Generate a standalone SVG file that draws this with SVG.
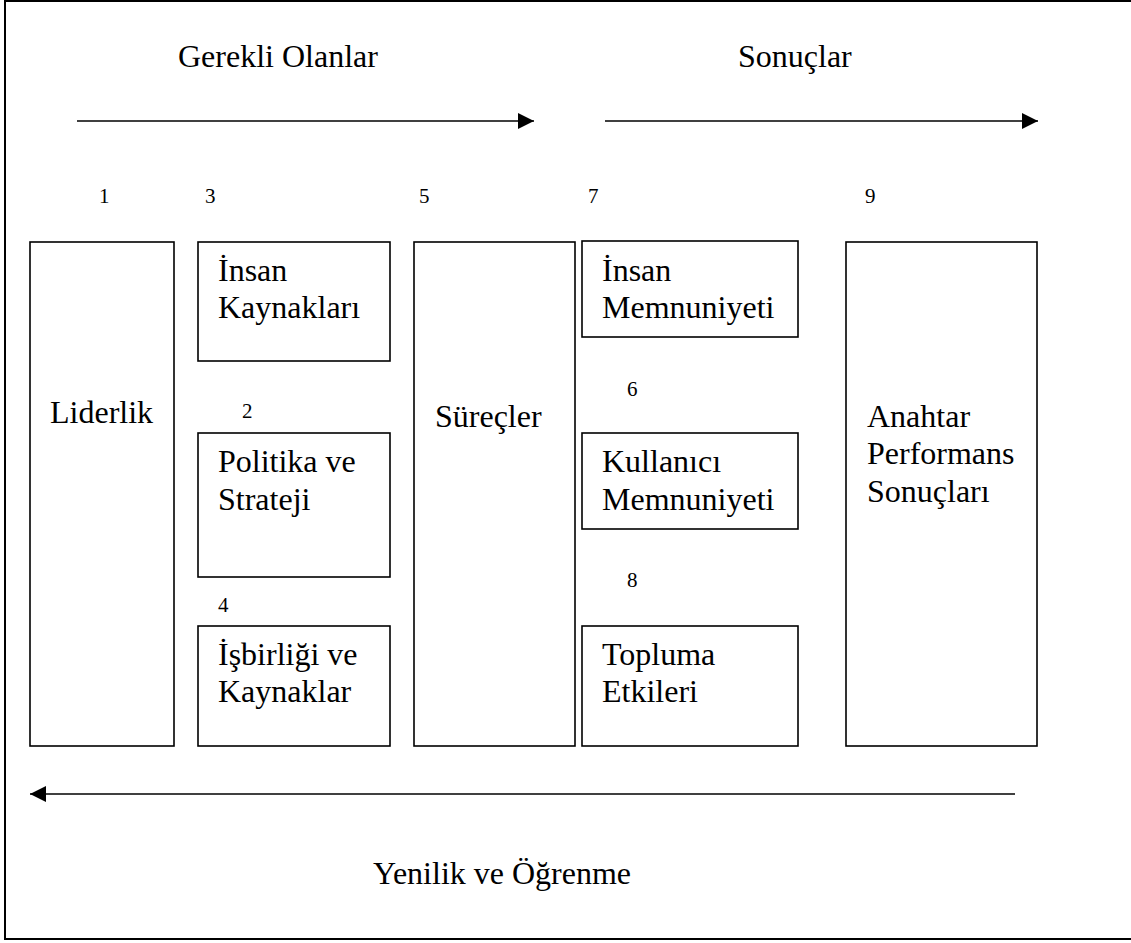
<svg xmlns="http://www.w3.org/2000/svg" width="1131" height="943" viewBox="0 0 1131 943" font-family="'Liberation Serif', 'Times New Roman', Tinos, serif">
  <style>
    .box { fill: #fff; stroke: #000; stroke-width: 1.6; }
    .frame { fill: none; stroke: #000; stroke-width: 2; }
    text { font-family: 'Liberation Serif', 'Times New Roman', serif; fill: #000; }
    .t { font-size: 32px; }
    .n { font-size: 21px; }
    .conn { stroke: #000; stroke-width: 1.6; fill: none; }
  </style>
  <defs>
    <marker id="head" viewBox="0 0 16 16" refX="16" refY="8" markerWidth="16" markerHeight="16" markerUnits="userSpaceOnUse" orient="auto">
      <path d="M0,0 L16,8 L0,16 Z" fill="#000"/>
    </marker>
  </defs>

  <rect width="1131" height="943" fill="#fff"/>
  <!-- outer frame (open on the right side) -->
  <rect class="frame" x="5" y="1" width="1140" height="938"/>

  <!-- headings -->
  <text class="t" x="178" y="67">Gerekli Olanlar</text>
  <text class="t" x="738" y="67">Sonuçlar</text>
  <text class="t" x="373" y="884">Yenilik ve Öğrenme</text>

  <!-- column numbers -->
  <g id="numbers">
    <text class="n" x="99" y="203">1</text>
    <text class="n" x="205" y="203">3</text>
    <text class="n" x="419" y="203">5</text>
    <text class="n" x="588" y="203">7</text>
    <text class="n" x="865" y="203">9</text>
    <text class="n" x="242" y="418">2</text>
    <text class="n" x="218" y="612">4</text>
    <text class="n" x="627" y="396">6</text>
    <text class="n" x="627" y="587">8</text>
  </g>

  <g id="connectors">
    <line class="conn" x1="77" y1="121" x2="534" y2="121" marker-end="url(#head)"/>
    <line class="conn" x1="605" y1="121" x2="1038" y2="121" marker-end="url(#head)"/>
    <line class="conn" x1="1015" y1="794" x2="30" y2="794" marker-end="url(#head)"/>
  </g>

  <g id="liderlik">
    <rect class="box" x="30" y="242" width="144" height="504"/>
    <text class="t" x="50" y="423">Liderlik</text>
  </g>

  <g id="insan-kaynaklari">
    <rect class="box" x="198" y="242" width="192" height="119"/>
    <text class="t" x="218" y="281">İnsan</text>
    <text class="t" x="218" y="318">Kaynakları</text>
  </g>

  <g id="politika-strateji">
    <rect class="box" x="198" y="433" width="192" height="144"/>
    <text class="t" x="218" y="472">Politika ve</text>
    <text class="t" x="218" y="510">Strateji</text>
  </g>

  <g id="isbirligi-kaynaklar">
    <rect class="box" x="198" y="626" width="192" height="120"/>
    <text class="t" x="218" y="665">İşbirliği ve</text>
    <text class="t" x="218" y="702">Kaynaklar</text>
  </g>

  <g id="surecler">
    <rect class="box" x="414" y="242" width="161" height="504"/>
    <text class="t" x="435" y="427">Süreçler</text>
  </g>

  <g id="insan-memnuniyeti">
    <rect class="box" x="582" y="241" width="216" height="96"/>
    <text class="t" x="602" y="281">İnsan</text>
    <text class="t" x="602" y="318">Memnuniyeti</text>
  </g>

  <g id="kullanici-memnuniyeti">
    <rect class="box" x="582" y="433" width="216" height="96"/>
    <text class="t" x="602" y="472">Kullanıcı</text>
    <text class="t" x="602" y="510">Memnuniyeti</text>
  </g>

  <g id="topluma-etkileri">
    <rect class="box" x="582" y="626" width="216" height="120"/>
    <text class="t" x="602" y="665">Topluma</text>
    <text class="t" x="602" y="702">Etkileri</text>
  </g>

  <g id="anahtar-performans">
    <rect class="box" x="846" y="242" width="191" height="504"/>
    <text class="t" x="867" y="427">Anahtar</text>
    <text class="t" x="867" y="464">Performans</text>
    <text class="t" x="867" y="502">Sonuçları</text>
  </g>
</svg>
